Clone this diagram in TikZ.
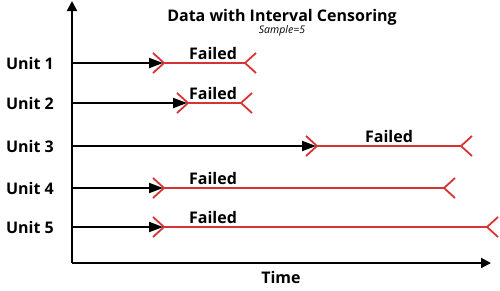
\documentclass[tikz,border=0pt]{standalone}
\usepackage{fontspec}
\setmainfont{Open Sans}
\usetikzlibrary{arrows.meta}
\definecolor{failred}{RGB}{214,52,52}
\begin{document}
\begin{tikzpicture}[x=1pt,y=-1pt]
    \tikzstyle{ax}=[line width=2pt, -{Triangle[length=10pt,width=10pt]}]
    \tikzstyle{run}=[line width=2pt, -{Triangle[length=14pt,width=10pt]}]
    \tikzstyle{fail}=[failred, line width=1.8pt]
    \tikzstyle{unit}=[font=\bfseries\fontsize{16}{18}\selectfont, anchor=east, inner sep=0pt]
    \tikzstyle{ftxt}=[font=\bfseries\fontsize{16}{18}\selectfont, anchor=base, inner sep=0pt]
    \useasboundingbox (0,0) rectangle (500,290);
    % axes
    \coordinate (o) at (72,263);
    \coordinate (ytop) at (72,1);
    \coordinate (xend) at (491,263);
    \draw[ax] (o) -- (ytop);
    \draw[ax] (o) -- (xend);
    \node[ftxt] (time) at (281,283) {Time};
    % title
    \node[ftxt] (title) at (282,21) {Data with Interval Censoring};
    \node[anchor=base, inner sep=0pt, font=\itshape\fontsize{10.5}{12}\selectfont] (samp) at (282,33) {Sample=5};
    % units
    \node[unit] (u1) at (54,63) {Unit 1};
    \node[unit] (u2) at (54,103) {Unit 2};
    \node[unit] (u3) at (54,146) {Unit 3};
    \node[unit] (u4) at (54,188) {Unit 4};
    \node[unit] (u5) at (54,227) {Unit 5};
    \coordinate (a1) at (72,63);  \coordinate (s1) at (164,63);  \coordinate (e1) at (245,63);
    \coordinate (a2) at (72,103); \coordinate (s2) at (188,103); \coordinate (e2) at (241,103);
    \coordinate (a3) at (72,146); \coordinate (s3) at (317,146); \coordinate (e3) at (461,146);
    \coordinate (a4) at (72,188); \coordinate (s4) at (164,188); \coordinate (e4) at (444,188);
    \coordinate (a5) at (72,227); \coordinate (s5) at (164,227); \coordinate (e5) at (487,227);
    % runs and failure intervals
    \foreach \i in {1,...,5} {
      \draw[fail] (s\i) -- (e\i);
      \draw[fail] ([shift={(-11,-10)}]s\i) -- (s\i) -- ([shift={(-11,10)}]s\i);
      \draw[fail] ([shift={(11,-10)}]e\i) -- (e\i) -- ([shift={(11,10)}]e\i);
      \draw[run] (a\i) -- ([xshift=-1pt]s\i);
    }
    \node[ftxt] (f1) at (213,59) {Failed};
    \node[ftxt] (f2) at (213,99) {Failed};
    \node[ftxt] (f3) at (389,142) {Failed};
    \node[ftxt] (f4) at (213,184) {Failed};
    \node[ftxt] (f5) at (213,223) {Failed};
\end{tikzpicture}
\end{document}
